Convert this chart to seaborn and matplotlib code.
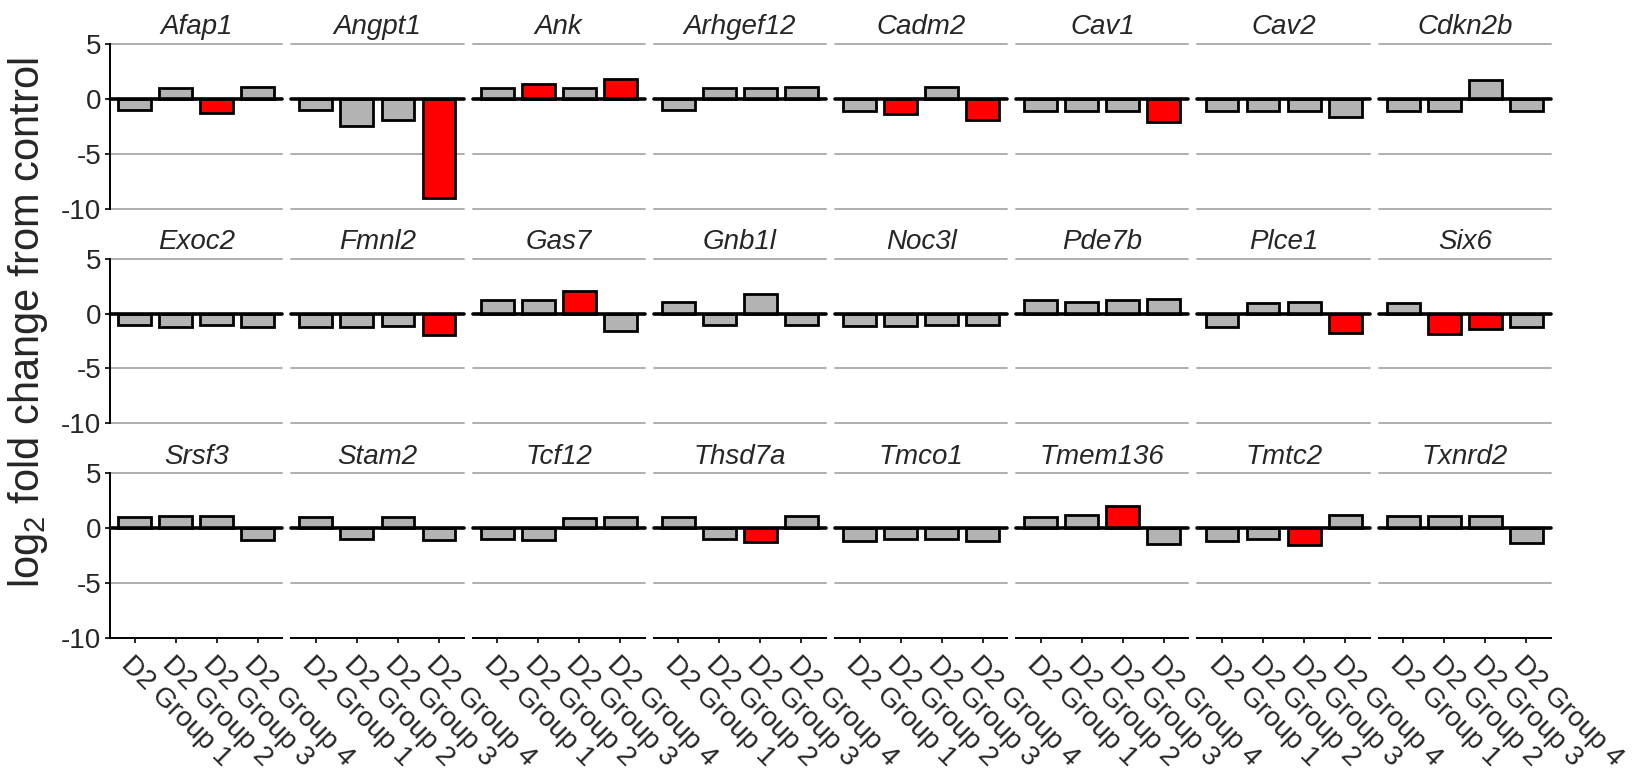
import matplotlib
matplotlib.use("Agg")
import matplotlib.pyplot as plt
import numpy as np
import pandas as pd
import seaborn as sns

# Genes (one facet each) and the four comparison groups
genes = ["Afap1", "Angpt1", "Ank", "Arhgef12", "Cadm2", "Cav1", "Cav2", "Cdkn2b",
         "Exoc2", "Fmnl2", "Gas7", "Gnb1l", "Noc3l", "Pde7b", "Plce1", "Six6",
         "Srsf3", "Stam2", "Tcf12", "Thsd7a", "Tmco1", "Tmem136", "Tmtc2", "Txnrd2"]
groups = ["D2 Group 1", "D2 Group 2", "D2 Group 3", "D2 Group 4"]

# log2 fold change from control, one value per gene for each group
group1 = [-1.0, -1.0, 1.0, -1.0, -1.1, -1.1, -1.1, -1.1,
          -1.0, -1.2, 1.25, 1.1, -1.1, 1.2, -1.2, 0.95,
          1.0, 1.0, -0.95, 1.05, -1.2, 1.05, -1.15, 1.15]
group2 = [0.95, -2.5, 1.4, 0.95, -1.4, -1.15, -1.1, -1.1,
          -1.2, -1.2, 1.2, -1.05, -1.1, 1.1, 1.0, -1.85,
          1.15, -0.95, -1.05, -0.95, -0.95, 1.25, -0.95, 1.15]
group3 = [-1.25, -1.9, 0.95, 0.95, 1.05, -1.15, -1.15, 1.75,
          -1.05, -1.1, 2.1, 1.8, -1.05, 1.2, 1.1, -1.4,
          1.15, 1.05, 0.95, -1.25, -0.95, 2.05, -1.5, 1.15]
group4 = [1.1, -9.05, 1.85, 1.05, -1.9, -2.1, -1.65, -1.1,
          -1.2, -1.95, -1.6, -1.05, -1.05, 1.35, -1.8, -1.2,
          -1.05, -1.05, 1.05, 1.15, -1.2, -1.4, 1.25, -1.3]

# Genes with a significant change in each group (drawn in red)
sig_group1 = []
sig_group2 = ["Ank", "Cadm2", "Six6"]
sig_group3 = ["Afap1", "Gas7", "Six6", "Thsd7a", "Tmem136", "Tmtc2"]
sig_group4 = ["Angpt1", "Ank", "Cadm2", "Cav1", "Fmnl2", "Plce1"]

yticks = [5, 0, -5, -10]

rows = []
for grp, vals, sig in zip(groups, [group1, group2, group3, group4],
                          [sig_group1, sig_group2, sig_group3, sig_group4]):
    for gene, v in zip(genes, vals):
        rows.append({"gene": gene, "group": grp, "value": v,
                     "sig": "yes" if gene in sig else "no"})
df = pd.DataFrame(rows)

sns.set_theme(style="white")
plt.rcParams["font.family"] = ["Liberation Sans", "DejaVu Sans"]
plt.rcParams["mathtext.fontset"] = "custom"
plt.rcParams["mathtext.rm"] = "Liberation Sans"
plt.rcParams["mathtext.it"] = "Liberation Sans:italic"

g = sns.catplot(data=df, x="group", y="value", hue="sig", col="gene",
                col_wrap=8, col_order=genes, order=groups, kind="bar",
                palette={"no": "#b3b3b3", "yes": "#ff0000"}, hue_order=["no", "yes"],
                saturation=1, dodge=False, legend=False, errorbar=None, width=0.8,
                edgecolor="black", linewidth=2.0, height=2.4, aspect=0.9,
                sharex=True, sharey=True)

fig = g.figure
fig.set_size_inches(16.35, 7.78)
fig.subplots_adjust(left=0.0673, right=0.9486, top=0.9434, bottom=0.18,
                    wspace=0.052, hspace=0.305)

g.set_titles(template="{col_name}", fontstyle="italic", size=20, pad=7)

ncol = 8
for i, ax in enumerate(g.axes.flat):
    r, c = divmod(i, ncol)
    ax.set_xlim(-0.6, 3.6)
    ax.set_ylim(-10, 5)
    ax.set_xlabel("")
    ax.set_ylabel("")
    for y in yticks:
        if y == 0:
            continue
        if y == -10 and r == 2:
            continue
        ax.axhline(y, color="#a8a8a8", lw=1.3, zorder=0, clip_on=False)
    ax.axhline(0, color="black", lw=2.6, zorder=5, clip_on=False)
    for s in ["top", "right"]:
        ax.spines[s].set_visible(False)
    ax.spines["left"].set_visible(c == 0)
    ax.spines["bottom"].set_visible(r == 2)
    for s in ["left", "bottom"]:
        ax.spines[s].set_color("black")
        ax.spines[s].set_linewidth(1.4)
    ax.set_yticks(yticks)
    if c == 0:
        ax.tick_params(axis="y", left=True, length=3.5, width=1.2,
                       labelsize=20, pad=3, color="black")
        ax.set_yticklabels([str(t) for t in yticks])
    else:
        ax.tick_params(axis="y", left=False, labelleft=False)
    if r == 2:
        ax.tick_params(axis="x", bottom=True, length=3.5, width=1.2,
                       labelsize=20, pad=6, color="black")
        ax.set_xticks(range(len(groups)))
        ax.set_xticklabels(groups)
        for lab in ax.get_xticklabels():
            lab.set_rotation(-45)
            lab.set_ha("left")
            lab.set_va("top")
            lab.set_rotation_mode("anchor")
    else:
        ax.tick_params(axis="x", bottom=False, labelbottom=False)

fig.text(0.0171, 0.585, "log$_2$ fold change from control", rotation=90,
         ha="center", va="center", fontsize=30)

fig.savefig("out.png", dpi=100)
